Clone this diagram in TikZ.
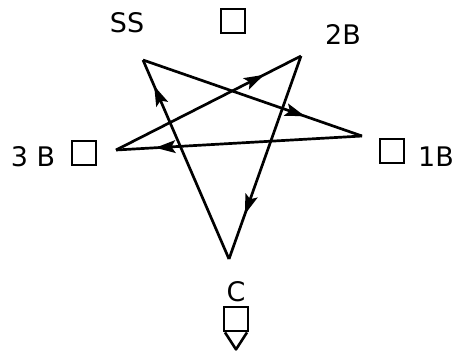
\documentclass[tikz,border=0pt]{standalone}
\usepackage{fontspec}
\setmainfont{DejaVu Sans}
\usetikzlibrary{
  arrows.meta,
  calc,
  decorations.markings,
  positioning
}
\tikzset{
  starEdge/.style={
    line width=2.3pt,
    postaction={decorate},
    decoration={markings,
      mark=at position #1 with {\arrow{Stealth[length=6mm,width=3.8mm,inset=1.2mm]}}}
  },
  starEdge/.default=0.78,
  stationBox/.style={
    draw,
    line width=2.4pt,
    minimum size=0.72cm,
    inner sep=0pt
  },
  stationLabel/.style={
    font=\fontsize{23}{26}\selectfont,
    inner sep=0pt
  }
}

\begin{document}
\begin{tikzpicture}[x=0.03cm,y=-0.03cm]
  \useasboundingbox (0,0) rectangle (453,350);

  % star corners
  \coordinate (ss) at (143,60);
  \coordinate (twoB) at (301,56);
  \coordinate (oneB) at (362,136);
  \coordinate (threeB) at (116,150);
  \coordinate (cee) at (229,259);

  % stations
  \node[stationBox] (boxTop) at (233,21) {};
  \node[stationBox] (boxThree) at (84,153) {};
  \node[stationBox] (boxOne) at (392,151) {};
  \node[stationBox] (boxC) at (236,319) {};
  \draw[line width=2.2pt, line join=round]
    ($(boxC.south)+(-11,0)$) -- ($(boxC.south)+(0,17)$) -- ($(boxC.south)+(11,0)$);

  % labels
  \node[stationLabel] (lblSS) at (127,23) {SS};
  \node[stationLabel] (lblTwo) at (343,34) {2B};
  \node[stationLabel] (lblThree) at (33,157) {3 B};
  \node[stationLabel] (lblOne) at (436,157) {1B};
  \node[stationLabel] (lblC) at (236,292) {C};

  % star path
  \draw[starEdge=0.74] (ss) -- (oneB);
  \draw[starEdge=0.84] (oneB) -- (threeB);
  \draw[starEdge=0.8] (threeB) -- (twoB);
  \draw[starEdge=0.78] (twoB) -- (cee);
  \draw[starEdge=0.87] (cee) -- (ss);
\end{tikzpicture}
\end{document}
